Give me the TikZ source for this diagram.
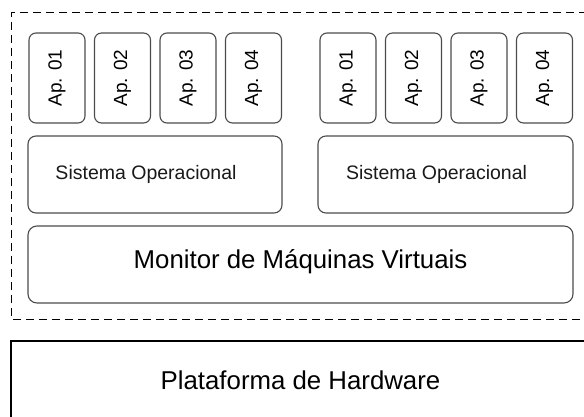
\documentclass[tikz,border=0pt]{standalone}
\usepackage{fontspec}
\setmainfont{Liberation Sans}
\usetikzlibrary{positioning}

\begin{document}
\begin{tikzpicture}[x=1pt,y=1pt,node distance=65.5pt]
			\tikzstyle{app}=[draw=black!70,line width=1.1pt,rounded corners=7pt,minimum width=56pt,minimum height=90pt,inner sep=0pt,font=\fontsize{19}{22}\selectfont]
			\tikzstyle{osbox}=[draw=black!70,line width=1.1pt,rounded corners=8pt,minimum height=77pt,inner sep=0pt]
			\tikzstyle{label}=[font=\fontsize{19.5}{23}\selectfont,text=black!90]
			\useasboundingbox (0,0) rectangle (584,416);
			\clip (0,0) rectangle (584,416);
			%Virtual layer
			\draw[dashed,dash pattern=on 8pt off 5pt,line width=1pt] (600,403) -- (11,403) -- (11,97) -- (600,97);
			%First VM
			\node[app](a1) at (57,338){\rotatebox{90}{Ap. 01}};
			\node[app](a2)[right of = a1]{\rotatebox{90}{Ap. 02}};
			\node[app](a3)[right of = a2]{\rotatebox{90}{Ap. 03}};
			\node[app](a4)[right of = a3]{\rotatebox{90}{Ap. 04}};
			\node[osbox,minimum width=254pt](so1) at (155,241.5){};
			\node[label] at ([xshift=-9pt]so1.center){Sistema Operacional};
			%Second VM
			\node[app](b1) at (348,338){\rotatebox{90}{Ap. 01}};
			\node[app](b2)[right of = b1]{\rotatebox{90}{Ap. 02}};
			\node[app](b3)[right of = b2]{\rotatebox{90}{Ap. 03}};
			\node[app](b4)[right of = b3]{\rotatebox{90}{Ap. 04}};
			\node[osbox,minimum width=255pt](so2) at (445.5,241.5){};
			\node[label] at ([xshift=-9pt]so2.center){Sistema Operacional};
			%Hypervisor
			\node[osbox,minimum width=545pt,rounded corners=9pt](vmm) at (300.5,151.5){};
			\node[font=\fontsize{25.8}{30}\selectfont] at ([yshift=3pt]vmm.center){Monitor de Máquinas Virtuais};
			%Hardware
			\draw[line width=1.5pt] (600,75) -- (11,75) -- (11,-10);
			\node[font=\fontsize{25.8}{30}\selectfont](hw) at (300.5,36){Plataforma de Hardware};
\end{tikzpicture}
\end{document}
